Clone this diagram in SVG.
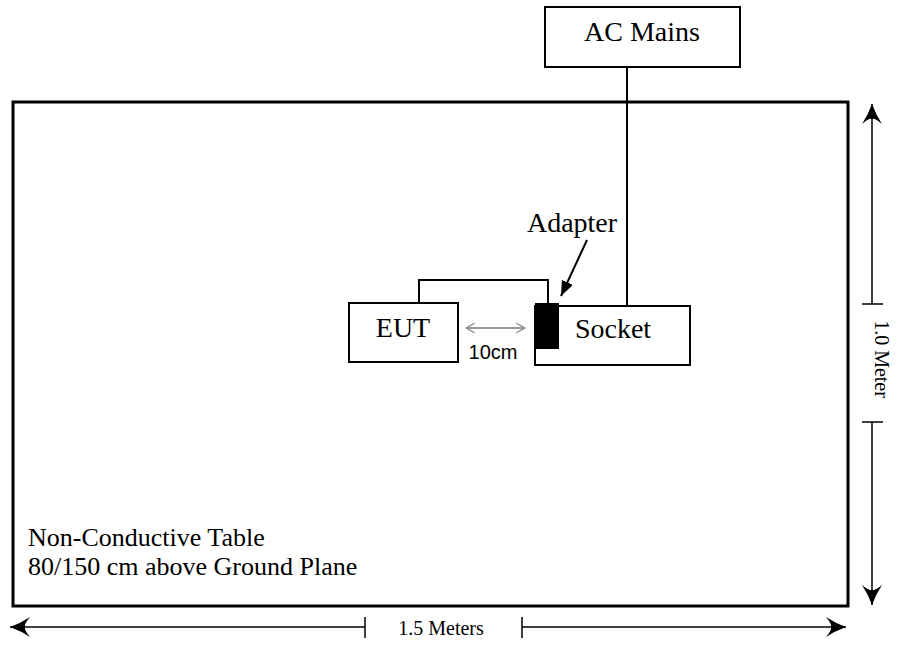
<svg xmlns="http://www.w3.org/2000/svg" width="897" height="646" viewBox="0 0 897 646">
<style>
.box{fill:#fff;stroke:#000;stroke-width:2}
.w{fill:none;stroke:#000;stroke-width:2}
.t{font-family:"Liberation Serif",serif;fill:#000}
.dim{stroke:#000;stroke-width:1.5}
</style>
<defs>
<marker id="ah" markerWidth="16" markerHeight="14" refX="15" refY="6" orient="auto-start-reverse" markerUnits="userSpaceOnUse">
<path d="M0,0 L15,6 L0,12 Z" fill="#000"/>
</marker>
<marker id="ag" markerWidth="10" markerHeight="10" refX="8" refY="5" orient="auto-start-reverse" markerUnits="userSpaceOnUse">
<path d="M0,0 L9,5 L0,10" fill="none" stroke="#999" stroke-width="1.5"/>
</marker>
<marker id="ab" markerWidth="22" markerHeight="22" refX="20" refY="10" orient="auto-start-reverse" markerUnits="userSpaceOnUse">
<path d="M20,10 Q9,6 0,0 Q6,7 5,10 Q6,13 0,20 Q9,14 20,10 Z" fill="#000"/>
</marker>
</defs>
<g id="table">
<rect x="13" y="102" width="835" height="504" fill="#fff" stroke="#000" stroke-width="3"/>
<text class="t" x="28" y="546" font-size="26">Non-Conductive Table</text>
<text class="t" x="28" y="575" font-size="26">80/150 cm above Ground Plane</text>
</g>
<g id="connectors">
<line class="w" x1="627" y1="67" x2="627" y2="305"/>
<polyline class="w" points="419,303 419,280 548,280 548,303"/>
<line x1="587" y1="240" x2="561" y2="296" stroke="#000" stroke-width="2" marker-end="url(#ah)"/>
<line x1="467" y1="328" x2="524" y2="328" stroke="#999" stroke-width="2" marker-start="url(#ag)" marker-end="url(#ag)"/>
</g>
<g id="ac-mains">
<rect class="box" x="545" y="7" width="195" height="60"/>
<text class="t" x="642" y="41" font-size="28" text-anchor="middle">AC Mains</text>
</g>
<g id="eut">
<rect class="box" x="349" y="303" width="109" height="59"/>
<text class="t" x="403" y="337" font-size="28" text-anchor="middle">EUT</text>
</g>
<g id="socket">
<rect class="box" x="535" y="306" width="155" height="59"/>
<text class="t" x="613" y="338" font-size="28" text-anchor="middle">Socket</text>
</g>
<g id="adapter">
<rect x="535" y="303" width="24" height="46" fill="#000"/>
<text class="t" x="572" y="232" font-size="28" text-anchor="middle">Adapter</text>
</g>
<g id="label-10cm">
<text x="493" y="359" font-family="Liberation Sans,Arial,sans-serif" font-size="20" text-anchor="middle">10cm</text>
</g>
<g id="dim-width">
<line class="dim" x1="10" y1="627" x2="365" y2="627" marker-start="url(#ab)"/>
<line class="dim" x1="365" y1="617" x2="365" y2="638"/>
<line class="dim" x1="522" y1="627" x2="846" y2="627" marker-end="url(#ab)"/>
<line class="dim" x1="522" y1="617" x2="522" y2="638"/>
<text class="t" x="441" y="635" font-size="20" text-anchor="middle">1.5 Meters</text>
</g>
<g id="dim-height">
<line class="dim" x1="872" y1="104" x2="872" y2="304" marker-start="url(#ab)"/>
<line class="dim" x1="862" y1="304" x2="883" y2="304"/>
<line class="dim" x1="872" y1="422" x2="872" y2="605" marker-end="url(#ab)"/>
<line class="dim" x1="862" y1="422" x2="883" y2="422"/>
<text class="t" font-size="20" text-anchor="middle" transform="translate(875,359) rotate(90)">1.0 Meter</text>
</g>
</svg>
